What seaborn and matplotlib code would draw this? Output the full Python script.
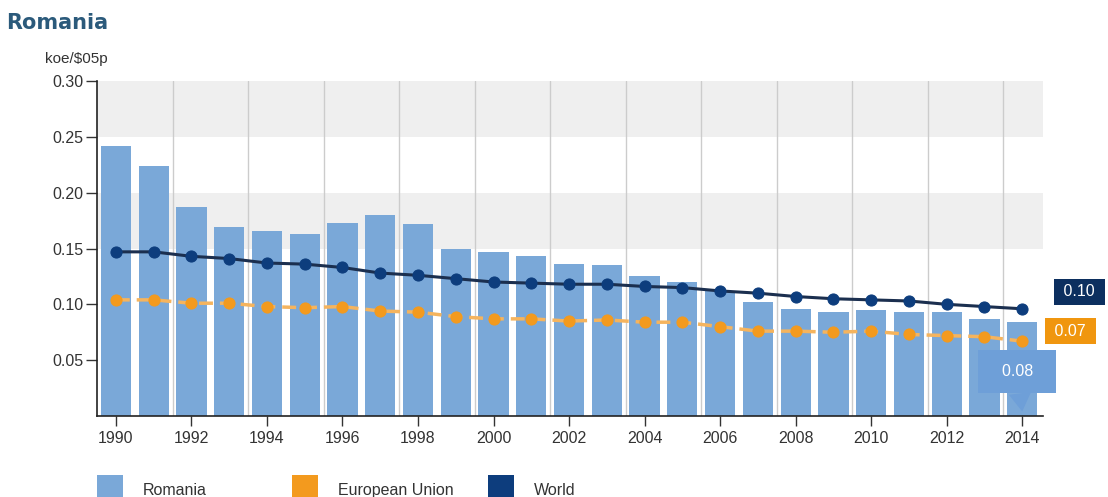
import numpy as np
import pandas as pd
import matplotlib
matplotlib.use("Agg")
import matplotlib.pyplot as plt
import seaborn as sns
from matplotlib.patches import Rectangle

years = list(range(1990, 2015))
romania = [0.242, 0.224, 0.187, 0.169, 0.166, 0.163, 0.173, 0.180, 0.172, 0.150,
           0.147, 0.143, 0.136, 0.135, 0.125, 0.120, 0.112, 0.102, 0.096, 0.093,
           0.095, 0.093, 0.093, 0.087, 0.084]
eu = [0.104, 0.104, 0.101, 0.101, 0.098, 0.097, 0.098, 0.094, 0.093, 0.089,
      0.087, 0.087, 0.085, 0.086, 0.084, 0.084, 0.080, 0.076, 0.076, 0.075,
      0.076, 0.073, 0.072, 0.071, 0.067]
world = [0.147, 0.147, 0.143, 0.141, 0.137, 0.136, 0.133, 0.128, 0.126, 0.123,
         0.120, 0.119, 0.118, 0.118, 0.116, 0.115, 0.112, 0.110, 0.107, 0.105,
         0.104, 0.103, 0.100, 0.098, 0.096]
yticks = [0.05, 0.10, 0.15, 0.20, 0.25, 0.30]
xticks = list(range(1990, 2015, 2))

bar_c = "#7aa8d8"
eu_c = "#f39a1e"
eu_line = "#f5b45e"
world_c = "#0d3d7d"
world_line = "#1b2f4f"
txt_c = "#333333"

df = pd.DataFrame({"year": years, "Romania": romania, "EU": eu, "World": world})

sns.set_style("white")
plt.rcParams["font.family"] = ["Liberation Sans", "DejaVu Sans"]

fig = plt.figure(figsize=(11.08, 4.97), dpi=100)
ax = fig.add_axes([97 / 1108, 1 - 416 / 497, (1043 - 97) / 1108, (416 - 81) / 497])

# grey bands and vertical separators
ax.axhspan(0.25, 0.30, color="#efefef", zorder=0, lw=0)
ax.axhspan(0.15, 0.20, color="#efefef", zorder=0, lw=0)
for x in np.arange(1991.5, 2014, 2):
    ax.axvline(x, color="#cccccc", lw=1, zorder=0.5)

sns.barplot(data=df, x="year", y="Romania", native_scale=True, color=bar_c,
            saturation=1, width=0.8, linewidth=0, ax=ax, zorder=1)
sns.lineplot(data=df, x="year", y="World", ax=ax, color=world_line, lw=2.2,
             marker="o", markersize=8, markerfacecolor=world_c,
             markeredgecolor=world_c, zorder=3)
sns.lineplot(data=df, x="year", y="EU", ax=ax, color=eu_line, lw=2.5,
             linestyle=(0, (4, 2)), marker="o", markersize=8,
             markerfacecolor=eu_c, markeredgecolor=eu_c, zorder=2)

ax.set_xlim(1989.5, 2014.55)
ax.set_ylim(0, 0.30)
ax.set_xlabel("")
ax.set_ylabel("")
ax.set_xticks(xticks)
ax.set_xticklabels([str(y) for y in xticks])
ax.set_yticks(yticks)
ax.set_yticklabels([f"{v:.2f}" for v in yticks])
ax.tick_params(axis="x", length=7, width=1, pad=4, colors=txt_c, labelsize=11.5, direction="out", bottom=True)
ax.tick_params(axis="y", length=8, width=1, pad=2, colors=txt_c, labelsize=11.5, direction="out", left=True)
for s in ["top", "right"]:
    ax.spines[s].set_visible(False)
for s in ["left", "bottom"]:
    ax.spines[s].set_color("#222222")
    ax.spines[s].set_linewidth(1.2)

# end-value labels
ax.annotate(f" {world[-1]:.2f} ", xy=(years[-1], world[-1]), xytext=(57, 17),
            textcoords="offset pixels", ha="center", va="center", color="white",
            fontsize=11.5, annotation_clip=False, zorder=6,
            bbox=dict(boxstyle="square,pad=0.35", fc="#0c2f5f", ec="none"))
ax.annotate(f" {eu[-1]:.2f} ", xy=(years[-1], eu[-1]), xytext=(48, 10),
            textcoords="offset pixels", ha="center", va="center", color="white",
            fontsize=11.5, annotation_clip=False, zorder=6,
            bbox=dict(boxstyle="square,pad=0.35", fc="#f0960f", ec="none"))
ax.annotate(f"  {romania[-1]:.2f}  ", xy=(years[-1], 0.004), xytext=(-5, 40),
            textcoords="offset pixels", ha="center", va="center", color="white",
            fontsize=11.5, annotation_clip=False, zorder=6,
            bbox=dict(boxstyle="square,pad=0.9", fc="#6e9fd8", ec="none"),
            arrowprops=dict(arrowstyle="wedge,tail_width=1.4,shrink_factor=0.5",
                            fc="#6e9fd8", ec="none", shrinkA=0, shrinkB=0))

fig.text(6 / 1108, 1 - 29 / 497, "Romania", fontsize=15, fontweight="bold",
         color="#2b5a7b", family="DejaVu Sans", va="baseline")
fig.text(45 / 1108, 1 - 63 / 497, "koe/$05p", fontsize=11, color=txt_c, va="baseline")

# legend
legend_items = [("Romania", bar_c, 97), ("European Union", eu_c, 292), ("World", world_c, 488)]
for label, col, x0 in legend_items:
    fig.add_artist(Rectangle((x0 / 1108, 1 - 501 / 497), 26 / 1108, 26 / 497,
                             transform=fig.transFigure, fc=col, ec="none"))
    fig.text((x0 + 46) / 1108, 1 - 495 / 497, label, fontsize=11.5, color=txt_c, va="baseline")

fig.savefig("out.png", dpi=100)
